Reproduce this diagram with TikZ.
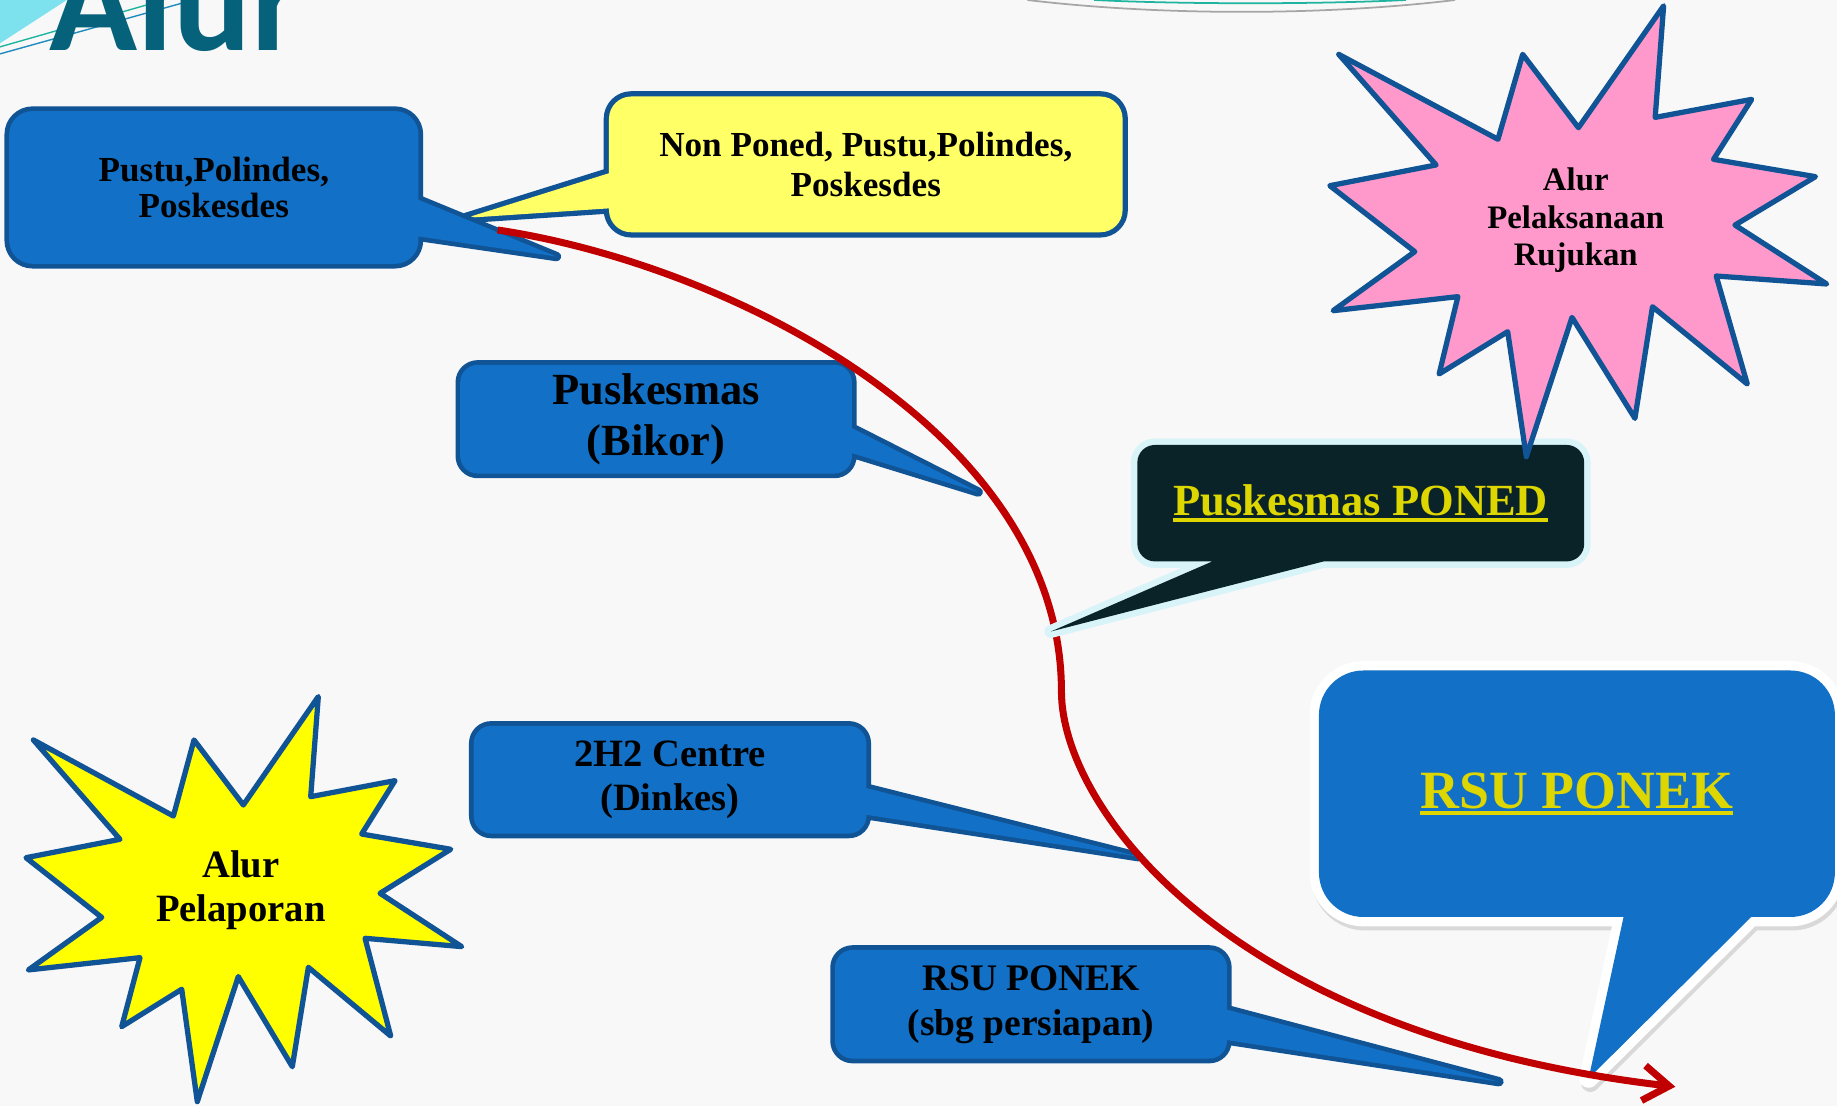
\documentclass[tikz,border=0pt]{standalone}
\usepackage{fontspec}
\setmainfont{Liberation Serif}
\newfontfamily\titlefont{Carlito}
\usepackage{tikz}
\usetikzlibrary{calc, arrows.meta}

\definecolor{boxblue}{RGB}{18,112,198}
\definecolor{edgeblue}{RGB}{16,84,150}
\definecolor{notepale}{RGB}{255,255,102}
\definecolor{starpink}{RGB}{255,153,204}
\definecolor{staryellow}{RGB}{255,255,0}
\definecolor{ponedfill}{RGB}{9,35,40}
\definecolor{ponededge}{RGB}{216,244,248}
\definecolor{linkgold}{RGB}{222,214,0}
\definecolor{flowred}{RGB}{192,0,0}
\definecolor{titleteal}{RGB}{6,98,122}
\definecolor{slidebg}{RGB}{248,248,248}
\definecolor{decocyan}{RGB}{125,226,238}
\definecolor{decoteal}{RGB}{30,180,160}
\definecolor{decoblue}{RGB}{30,140,190}

\pgfdeclarelayer{shapes}
\pgfsetlayers{shapes,main}

\newcommand{\goldline}[1]{\setbox0=\hbox{#1}\rlap{\rule[-5pt]{\wd0}{3pt}}\box0}

\begin{document}
\begin{tikzpicture}[x=1pt, y=-1pt,
  boxtext/.style={inner sep=0pt, align=center, text=black},
  startext/.style={inner sep=0pt, align=center, text=black},
  bluecall/.style={fill=boxblue, line join=round,
    preaction={draw=edgeblue, line width=8pt, line join=round}},
  palecall/.style={fill=notepale, line join=round,
    preaction={draw=edgeblue, line width=9pt, line join=round}},
  darkcall/.style={fill=ponedfill, line join=round,
    preaction={draw=ponededge, line width=11pt, line join=round}},
  bigcall/.style={fill=boxblue, line join=round,
    preaction={draw=gray!30, fill=gray!30, line width=16pt, line join=round,
      transform canvas={xshift=1.5pt, yshift=-3.5pt}},
    preaction={draw=white, line width=16pt, line join=round}},
  burst/.style={draw=edgeblue, line width=4.5pt, line join=round},
  flow/.style={draw=flowred, line width=6pt,
    -{Straight Barb[length=22pt, width=30pt]}}
]
\useasboundingbox (0,0) rectangle (1568,944);

% testi dei riquadri
\node[boxtext, minimum width=349pt, minimum height=130pt,
  font=\bfseries\fontsize{30}{31.4}\selectfont] (pustu) at (182.5,160)
  {Pustu,Polindes,\\Poskesdes};
\node[boxtext, minimum width=438pt, minimum height=115.5pt,
  font=\bfseries\fontsize{30}{33.5}\selectfont] (nonponed) at (739,140.3)
  {Non Poned, Pustu,Polindes,\\Poskesdes};
\node[boxtext, minimum width=334pt, minimum height=92.4pt,
  font=\bfseries\fontsize{38}{43.5}\selectfont] (bikor) at (560,357.8)
  {Puskesmas\\(Bikor)};
\node[boxtext, text=linkgold, minimum width=381pt, minimum height=99pt,
  font=\bfseries\fontsize{38}{43}\selectfont] (poned) at (1161.5,429.5)
  {\goldline{Puskesmas PONED}};
\node[boxtext, text=linkgold, minimum width=440pt, minimum height=210pt,
  font=\bfseries\fontsize{46}{50}\selectfont] (rsuponek) at (1346,677.5)
  {\goldline{RSU PONEK}};
\node[boxtext, minimum width=334.8pt, minimum height=91.6pt,
  font=\bfseries\fontsize{33}{37}\selectfont] (centre) at (571.9,665.5)
  {2H2 Centre\\(Dinkes)};
\node[boxtext, minimum width=334.2pt, minimum height=92.4pt,
  font=\bfseries\fontsize{32}{38.4}\selectfont] (persiapan) at (880,857.2)
  {RSU PONEK\\(sbg persiapan)};
\node[startext, font=\bfseries\fontsize{28}{32}\selectfont] (rujukan) at (1345,188)
  {Alur\\Pelaksanaan\\Rujukan};
\node[startext, font=\bfseries\fontsize{33}{37.6}\selectfont] (pelaporan) at (205.6,759.5)
  {Alur\\Pelaporan};
\node[anchor=base west, inner sep=0pt, text=titleteal,
  font=\titlefont\bfseries\fontsize{124}{124}\selectfont] (title) at (42,42.7) {Alur};

% punte dei fumetti
\coordinate (pustu tip) at (475,219);
\coordinate (nonponed tip) at (398,186);
\coordinate (bikor tip) at (835,420);
\coordinate (poned tip) at (897,539);
\coordinate (rsuponek tip) at (1356,920.5);
\coordinate (centre tip) at (972,731.3);
\coordinate (persiapan tip) at (1279.5,923.3);
\coordinate (flow start) at (424.7,196.3);
\coordinate (flow turn) at (906,590);
\coordinate (flow end) at (1430,927.6);

\begin{pgfonlayer}{shapes}
\fill[slidebg] (0,0) rectangle (1568,944);
\fill[decocyan] (0,0) -- (57,0) -- (0,37) -- cycle;
\draw[decoteal, line width=1.2pt] (0,40) -- (140,0);
\draw[decoblue, line width=1.2pt] (0,46) -- (165,0);
\draw[gray!70, line width=1.5pt] (877,0) .. controls (990,13.5) and (1130,13.5) .. (1242,0);
\draw[decoteal, line width=1.5pt] (934,0) .. controls (1010,3.7) and (1125,3.7) .. (1200,0);

\path[palecall, rounded corners=19pt] (nonponed.north west) rectangle (nonponed.south east)
  [sharp corners] ($(nonponed.north west)+(0,65.5)$) -- (nonponed tip)
  -- ($(nonponed.north west)+(0,95.5)$) -- cycle;
\path[bluecall, rounded corners=20pt] (pustu.north west) rectangle (pustu.south east)
  [sharp corners] ($(pustu.north east)+(0,75.7)$) -- (pustu tip)
  -- ($(pustu.north east)+(0,107)$) -- cycle;
\path[bluecall, rounded corners=15pt] (bikor.north west) rectangle (bikor.south east)
  [sharp corners] ($(bikor.north east)+(0,54)$) -- (bikor tip)
  -- ($(bikor.north east)+(0,75.4)$) -- cycle;
\path[bluecall, rounded corners=15pt] (centre.north west) rectangle (centre.south east)
  [sharp corners] ($(centre.north east)+(0,53.2)$) -- (centre tip)
  -- ($(centre.north east)+(0,76)$) -- cycle;
\path[bluecall, rounded corners=15pt] (persiapan.north west) rectangle (persiapan.south east)
  [sharp corners] ($(persiapan.north east)+(0,51)$) -- (persiapan tip)
  -- ($(persiapan.north east)+(0,77)$) -- cycle;
\path[bigcall, rounded corners=38pt] (rsuponek.north west) rectangle (rsuponek.south east)
  [sharp corners] ($(rsuponek.south west)+(260,0)$) -- (rsuponek tip)
  -- ($(rsuponek.south west)+(369,0)$) -- cycle;

\draw[flow] (flow start) .. controls (624.7,226.3) and (906,370) .. (flow turn)
  .. controls (906,690) and (1050,883.5) .. (flow end);

\path[darkcall, rounded corners=15pt] (poned.north west) rectangle (poned.south east)
  [sharp corners] ($(poned.south west)+(64,0)$) -- (poned tip)
  -- ($(poned.south west)+(159,0)$) -- cycle;

% stelle
\draw[burst, fill=starpink] (1420,5) -- (1412.8,100.2) -- (1495.2,84.8) -- (1462.6,136)
  -- (1549.6,150.8) -- (1480.9,192.1) -- (1559.2,242.4) -- (1464.9,235.6)
  -- (1491.4,327.8) -- (1410.5,261.8) -- (1395.5,357.1) -- (1341.8,270.9)
  -- (1302.8,389.8) -- (1286.9,283.1) -- (1228.4,319.2) -- (1244.4,253.2)
  -- (1137.9,265.2) -- (1207.6,214.8) -- (1135.1,158.5) -- (1225.8,140.8)
  -- (1142.7,46.4) -- (1278.6,118.9) -- (1299.7,46.4) -- (1347.3,109) -- cycle;
\draw[burst, fill=staryellow] (271.7,594.6) -- (265.2,680) -- (337.2,666.3) -- (308.7,711.9)
  -- (384.7,724.9) -- (324.4,762.5) -- (394.1,808) -- (311.6,800.9)
  -- (333.5,884.3) -- (263.2,825.7) -- (249.5,910.5) -- (203.4,833.6)
  -- (168.4,940.3) -- (155.1,844.4) -- (103.9,876.3) -- (119.5,817.4)
  -- (24.2,827.9) -- (86.8,783) -- (22.2,732.1) -- (102.4,716.4)
  -- (28.5,631.6) -- (148,696.5) -- (165.6,631.6) -- (207.7,687.1) -- cycle;
\end{pgfonlayer}
\end{tikzpicture}
\end{document}
